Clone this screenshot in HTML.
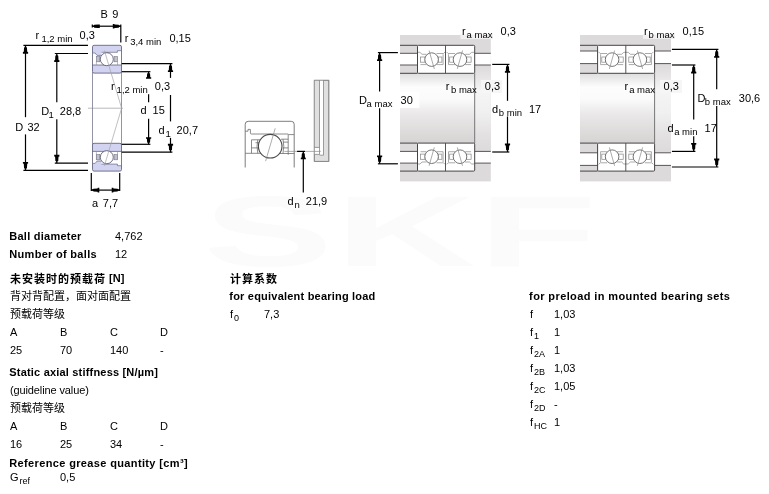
<!DOCTYPE html>
<html lang="zh-CN">
<head>
<meta charset="utf-8">
<title>Angular contact ball bearing - dimensions and calculation data</title>
<style>
html,body{margin:0;padding:0;background:#fff;}
#page{position:relative;width:769px;height:494px;overflow:hidden;background:#fff;
  font-family:"Liberation Sans", "Noto Sans CJK SC", sans-serif;font-size:11px;color:#000;}
#page svg{position:absolute;left:0;top:0;}
#page{will-change:transform;}
.dl{font-family:"Liberation Sans", "Noto Sans CJK SC", sans-serif;font-size:11px;fill:#000;}
.ds{font-family:"Liberation Sans", "Noto Sans CJK SC", sans-serif;font-size:9.5px;fill:#000;}
#wm{position:absolute;left:203px;top:175px;font-weight:bold;font-size:101px;line-height:112px;color:#fbfbfb;transform:scaleX(1.93);transform-origin:0 0;letter-spacing:1px;}
.t{position:absolute;white-space:nowrap;line-height:18px;height:18px;font-size:11px;}
.t.b{font-weight:bold;font-size:11px;}
.t .c{font-family:"Liberation Sans","Noto Sans CJK SC",sans-serif;font-size:11px;}
.t.b .c{font-size:11px;letter-spacing:1px;position:relative;top:1px;}
.t sub{font-size:9px;vertical-align:baseline;position:relative;top:3px;line-height:0;margin-left:1px;}
</style>
</head>
<body>
<div id="page">
<div id="wm">SKF</div>
<svg width="769" height="494" viewBox="0 0 769 494">
<defs>
<linearGradient id="shaft" x1="0" y1="0" x2="0" y2="1">
<stop offset="0" stop-color="#dfdede"/>
<stop offset="0.2" stop-color="#fdfdfd"/>
<stop offset="0.38" stop-color="#fafafa"/>
<stop offset="0.6" stop-color="#e9e7e7"/>
<stop offset="1" stop-color="#d6d3d3"/>
</linearGradient>
<linearGradient id="shoulder" x1="0" y1="0" x2="0" y2="1">
<stop offset="0" stop-color="#dcdadb"/>
<stop offset="0.14" stop-color="#e6e4e5"/>
<stop offset="0.3" stop-color="#f6f5f5"/>
<stop offset="0.55" stop-color="#f1f0f0"/>
<stop offset="0.8" stop-color="#e3e1e1"/>
<stop offset="1" stop-color="#dcdadb"/>
</linearGradient>
</defs>
<g id="d1">
<line x1="88.00" y1="108.20" x2="123.00" y2="108.20" stroke="#9a9aa2" stroke-width="0.7" />
<line x1="92.50" y1="72.00" x2="92.50" y2="145.00" stroke="#77788e" stroke-width="0.8" />
<line x1="121.50" y1="72.00" x2="121.50" y2="145.00" stroke="#77788e" stroke-width="0.8" />
<rect x="92.50" y="45.30" width="29.00" height="27.80" fill="#d2d3f1" stroke="#5e5f78" stroke-width="0.85" rx="1.6"/>
<polygon points="92.95,53.00 95.10,53.00 97.10,55.40 101.50,55.40 101.50,52.30 117.40,52.30 117.40,50.70 121.05,50.70 121.05,65.00 92.95,65.00" fill="#fff"/>
<polyline points="92.95,53.00 95.10,53.00 97.10,55.40 101.50,55.40" fill="none" stroke="#5e5f78" stroke-width="0.65"/>
<polyline points="101.50,52.30 117.40,52.30 117.40,50.70 121.05,50.70" fill="none" stroke="#5e5f78" stroke-width="0.65"/>
<line x1="92.50" y1="65.00" x2="121.50" y2="65.00" stroke="#5e5f78" stroke-width="0.75" />
<rect x="96.40" y="56.60" width="3.40" height="5.20" fill="#c2c2ca" stroke="#77788a" stroke-width="0.6" rx="0"/>
<rect x="114.10" y="56.60" width="3.40" height="5.20" fill="#c2c2ca" stroke="#77788a" stroke-width="0.6" rx="0"/>
<line x1="96.40" y1="61.80" x2="96.40" y2="65.00" stroke="#8a8b9c" stroke-width="0.6" />
<line x1="117.50" y1="61.80" x2="117.50" y2="65.00" stroke="#8a8b9c" stroke-width="0.6" />
<circle cx="106.8" cy="59.20" r="6.5" fill="#fff" stroke="#55566c" stroke-width="0.85"/>
<rect x="92.50" y="143.30" width="29.00" height="27.80" fill="#d2d3f1" stroke="#5e5f78" stroke-width="0.85" rx="1.6"/>
<polygon points="92.95,163.40 95.10,163.40 97.10,161.00 101.50,161.00 101.50,164.10 117.40,164.10 117.40,165.70 121.05,165.70 121.05,151.40 92.95,151.40" fill="#fff"/>
<polyline points="92.95,163.40 95.10,163.40 97.10,161.00 101.50,161.00" fill="none" stroke="#5e5f78" stroke-width="0.65"/>
<polyline points="101.50,164.10 117.40,164.10 117.40,165.70 121.05,165.70" fill="none" stroke="#5e5f78" stroke-width="0.65"/>
<line x1="92.50" y1="151.40" x2="121.50" y2="151.40" stroke="#5e5f78" stroke-width="0.75" />
<rect x="96.40" y="154.60" width="3.40" height="5.20" fill="#c2c2ca" stroke="#77788a" stroke-width="0.6" rx="0"/>
<rect x="114.10" y="154.60" width="3.40" height="5.20" fill="#c2c2ca" stroke="#77788a" stroke-width="0.6" rx="0"/>
<line x1="96.40" y1="159.80" x2="96.40" y2="151.40" stroke="#8a8b9c" stroke-width="0.6" />
<line x1="117.50" y1="159.80" x2="117.50" y2="151.40" stroke="#8a8b9c" stroke-width="0.6" />
<circle cx="106.8" cy="157.20" r="6.5" fill="#fff" stroke="#55566c" stroke-width="0.85"/>
<line x1="104.40" y1="50.50" x2="121.60" y2="108.20" stroke="#a4a4ac" stroke-width="0.7" />
<line x1="104.40" y1="165.90" x2="121.60" y2="108.20" stroke="#a4a4ac" stroke-width="0.7" />
<line x1="92.30" y1="26.20" x2="120.80" y2="26.20" stroke="#000" stroke-width="1.2" />
<line x1="120.80" y1="24.60" x2="120.80" y2="42.60" stroke="#000" stroke-width="1.2" />
<line x1="92.30" y1="24.60" x2="92.30" y2="27.60" stroke="#000" stroke-width="1.2" />
<polygon points="92.30,26.75 93.95,26.95 94.25,27.65 98.15,27.90 98.38,27.90 99.80,27.90 99.80,24.50 98.38,24.50 98.15,24.50 94.25,24.75 93.95,25.45 92.30,25.65" fill="#000"/>
<polygon points="120.80,26.75 119.04,26.95 118.72,27.65 114.56,27.90 114.32,28.50 112.80,28.50 112.80,23.90 114.32,23.90 114.56,24.50 118.72,24.75 119.04,25.45 120.80,25.65" fill="#000"/>
<line x1="23.40" y1="45.30" x2="88.00" y2="45.30" stroke="#000" stroke-width="1.2" />
<line x1="23.40" y1="170.40" x2="88.00" y2="170.40" stroke="#000" stroke-width="1.2" />
<line x1="25.50" y1="50.34" x2="25.50" y2="117.20" stroke="#000" stroke-width="1.2" />
<line x1="25.50" y1="134.40" x2="25.50" y2="165.36" stroke="#000" stroke-width="1.2" />
<polygon points="26.05,45.30 26.25,47.15 26.95,47.48 27.20,51.85 28.10,52.10 28.10,53.70 22.90,53.70 22.90,52.10 23.80,51.85 24.05,47.48 24.75,47.15 24.95,45.30" fill="#000"/>
<polygon points="26.05,170.40 26.25,168.55 26.95,168.22 27.20,163.85 28.10,163.60 28.10,162.00 22.90,162.00 22.90,163.60 23.80,163.85 24.05,168.22 24.75,168.55 24.95,170.40" fill="#000"/>
<line x1="54.80" y1="53.50" x2="88.00" y2="53.50" stroke="#000" stroke-width="1.2" />
<line x1="54.80" y1="163.20" x2="88.00" y2="163.20" stroke="#000" stroke-width="1.2" />
<line x1="56.80" y1="58.54" x2="56.80" y2="102.20" stroke="#000" stroke-width="1.2" />
<line x1="56.80" y1="119.30" x2="56.80" y2="158.16" stroke="#000" stroke-width="1.2" />
<polygon points="57.35,53.50 57.55,55.35 58.25,55.68 58.50,60.05 59.40,60.30 59.40,61.90 54.20,61.90 54.20,60.30 55.10,60.05 55.35,55.68 56.05,55.35 56.25,53.50" fill="#000"/>
<polygon points="57.35,163.20 57.55,161.35 58.25,161.02 58.50,156.65 59.40,156.40 59.40,154.80 54.20,154.80 54.20,156.40 55.10,156.65 55.35,161.02 56.05,161.35 56.25,163.20" fill="#000"/>
<line x1="121.70" y1="63.60" x2="172.40" y2="63.60" stroke="#000" stroke-width="1.2" />
<line x1="121.70" y1="152.20" x2="172.40" y2="152.20" stroke="#000" stroke-width="1.2" />
<line x1="170.50" y1="68.64" x2="170.50" y2="77.90" stroke="#000" stroke-width="1.2" />
<line x1="170.50" y1="95.00" x2="170.50" y2="121.40" stroke="#000" stroke-width="1.2" />
<line x1="170.50" y1="137.90" x2="170.50" y2="147.16" stroke="#000" stroke-width="1.2" />
<polygon points="171.05,63.60 171.25,65.45 171.95,65.78 172.20,70.15 173.10,70.40 173.10,72.00 167.90,72.00 167.90,70.40 168.80,70.15 169.05,65.78 169.75,65.45 169.95,63.60" fill="#000"/>
<polygon points="171.05,152.20 171.25,150.35 171.95,150.02 172.20,145.65 173.10,145.40 173.10,143.80 167.90,143.80 167.90,145.40 168.80,145.65 169.05,150.02 169.75,150.35 169.95,152.20" fill="#000"/>
<line x1="121.70" y1="71.70" x2="150.40" y2="71.70" stroke="#000" stroke-width="1.2" />
<line x1="121.70" y1="144.30" x2="150.40" y2="144.30" stroke="#000" stroke-width="1.2" />
<line x1="148.60" y1="75.90" x2="148.60" y2="77.90" stroke="#000" stroke-width="1.2" />
<line x1="148.60" y1="94.30" x2="148.60" y2="102.20" stroke="#000" stroke-width="1.2" />
<line x1="148.60" y1="118.70" x2="148.60" y2="140.10" stroke="#000" stroke-width="1.2" />
<polygon points="149.15,71.70 149.35,73.24 150.05,73.52 150.30,77.16 151.20,77.37 151.20,78.70 146.00,78.70 146.00,77.37 146.90,77.16 147.15,73.52 147.85,73.24 148.05,71.70" fill="#000"/>
<polygon points="149.15,144.30 149.35,142.76 150.05,142.48 150.30,138.84 151.20,138.63 151.20,137.30 146.00,137.30 146.00,138.63 146.90,138.84 147.15,142.48 147.85,142.76 148.05,144.30" fill="#000"/>
<line x1="91.30" y1="172.90" x2="91.30" y2="191.00" stroke="#000" stroke-width="1.2" />
<line x1="119.70" y1="172.90" x2="119.70" y2="191.00" stroke="#000" stroke-width="1.2" />
<line x1="91.30" y1="190.10" x2="119.70" y2="190.10" stroke="#000" stroke-width="1.2" />
<polygon points="91.30,190.65 93.06,190.85 93.38,191.55 97.54,191.80 97.78,192.40 99.30,192.40 99.30,187.80 97.78,187.80 97.54,188.40 93.38,188.65 93.06,189.35 91.30,189.55" fill="#000"/>
<polygon points="119.70,190.65 117.94,190.85 117.62,191.55 113.46,191.80 113.22,192.40 111.70,192.40 111.70,187.80 113.22,187.80 113.46,188.40 117.62,188.65 117.94,189.35 119.70,189.55" fill="#000"/>
</g>
<g id="d2">
<path d="M245.2 167.5 V124.3 Q245.2 121.3 248.2 121.3 H291.2 Q294.2 121.3 294.2 124.3 V167.5" fill="none" stroke="#6e6e6e" stroke-width="0.9"/>
<path d="M245.2 131.2 H248 V129.4 H250.4 V133 Q250.4 134 251.4 134 H288.2 M288.2 154.8 V134.6 H294.2" fill="none" stroke="#6e6e6e" stroke-width="0.8"/>
<path d="M245.2 153.3 H261 M280 153.5 H294.2" fill="none" stroke="#6e6e6e" stroke-width="0.8"/>
<path d="M260 139.8 H251.5 V153.3 M251.5 147.9 H258 M255.5 142.7 H259 M257.8 139.8 Q256.2 146.4 257.8 153.3" fill="none" stroke="#6e6e6e" stroke-width="0.8"/>
<path d="M281 139.2 H288.2 M283 142.1 H288.2 M283 147.9 H288.2 M283.0 139.2 Q284.6 146.4 283.0 153.3" fill="none" stroke="#6e6e6e" stroke-width="0.8"/>
<circle cx="270.2" cy="146.2" r="11.8" fill="#fff" stroke="#484848" stroke-width="1.1"/>
<line x1="275.20" y1="128.30" x2="265.60" y2="161.20" stroke="#8a8a8a" stroke-width="0.7" />
<rect x="314.30" y="80.30" width="14.50" height="81.10" fill="#e0e0e0" stroke="#8a8a8a" stroke-width="0.8" rx="0"/>
<path d="M319.5 80.3 V147.4 H314.3 V154.4 H319.5 V155.2 H323.5 V80.3 Z" fill="#fff"/>
<rect x="314.30" y="80.30" width="5.20" height="67.10" fill="#e0e0e0" stroke="none" stroke-width="0" rx="0"/>
<path d="M314.3 80.3 V161.4 H328.8 V80.3 Z M319.5 80.3 V154.6 M323.5 80.3 V155.2 H319.5 M314.3 147.4 H319.5 M314.3 154.4 H319.5" fill="none" stroke="#858585" stroke-width="0.8"/>
<line x1="284.40" y1="151.40" x2="320.80" y2="151.40" stroke="#8d8d8d" stroke-width="0.7" />
<line x1="297.10" y1="151.40" x2="305.00" y2="151.40" stroke="#000" stroke-width="1.2" />
<line x1="303.30" y1="157.00" x2="303.30" y2="192.60" stroke="#000" stroke-width="1.2" />
<polygon points="303.85,151.60 304.05,153.27 304.75,153.58 305.00,157.53 305.80,157.76 305.80,159.20 300.80,159.20 300.80,157.76 301.60,157.53 301.85,153.58 302.55,153.27 302.75,151.60" fill="#000"/>
</g>
<g id="d3">
<rect x="400.00" y="35.00" width="90.80" height="146.40" fill="#dcdadb" stroke="none" stroke-width="0" rx="0"/>
<rect x="400.00" y="73.30" width="74.70" height="69.80" fill="url(#shaft)" stroke="none" stroke-width="0" rx="0"/>
<rect x="474.70" y="65.00" width="16.10" height="86.40" fill="url(#shoulder)" stroke="none" stroke-width="0" rx="0"/>
<rect x="400.00" y="53.30" width="17.50" height="11.70" fill="#fff" stroke="none" stroke-width="0" rx="0"/>
<rect x="400.00" y="151.40" width="17.50" height="11.70" fill="#fff" stroke="none" stroke-width="0" rx="0"/>
<rect x="474.70" y="53.30" width="16.10" height="11.70" fill="#fff" stroke="none" stroke-width="0" rx="0"/>
<rect x="474.70" y="151.40" width="16.10" height="11.70" fill="#fff" stroke="none" stroke-width="0" rx="0"/>
<rect x="417.50" y="45.30" width="57.20" height="28.00" fill="#fff" stroke="none" stroke-width="0" rx="0"/>
<rect x="417.50" y="143.10" width="57.20" height="28.00" fill="#fff" stroke="none" stroke-width="0" rx="0"/>
<line x1="400.00" y1="45.30" x2="417.50" y2="45.30" stroke="#474345" stroke-width="1.0" />
<line x1="400.00" y1="171.10" x2="417.50" y2="171.10" stroke="#474345" stroke-width="1.0" />
<line x1="400.00" y1="53.30" x2="417.50" y2="53.30" stroke="#5a5658" stroke-width="1.0" />
<line x1="400.00" y1="163.10" x2="417.50" y2="163.10" stroke="#5a5658" stroke-width="1.0" />
<line x1="400.00" y1="65.00" x2="417.50" y2="65.00" stroke="#5a5658" stroke-width="1.0" />
<line x1="400.00" y1="151.40" x2="417.50" y2="151.40" stroke="#5a5658" stroke-width="1.0" />
<line x1="400.00" y1="73.30" x2="417.50" y2="73.30" stroke="#474345" stroke-width="1.0" />
<line x1="400.00" y1="143.10" x2="417.50" y2="143.10" stroke="#474345" stroke-width="1.0" />
<line x1="474.70" y1="53.30" x2="490.80" y2="53.30" stroke="#5a5658" stroke-width="1.0" />
<line x1="474.70" y1="163.10" x2="490.80" y2="163.10" stroke="#5a5658" stroke-width="1.0" />
<line x1="474.70" y1="65.00" x2="490.80" y2="65.00" stroke="#5a5658" stroke-width="1.0" />
<line x1="474.70" y1="151.40" x2="490.80" y2="151.40" stroke="#5a5658" stroke-width="1.0" />
<line x1="474.70" y1="73.30" x2="474.70" y2="143.10" stroke="#6a6a6a" stroke-width="0.9" />
<path d="M417.50 52.30 H419.90 L422.10 54.30 H426.50 M436.50 53.50 H443.50 L445.10 51.90" fill="none" stroke="#868686" stroke-width="0.7"/>
<path d="M420.50 64.60 H426.50 M436.50 64.60 H443.10 V54.30" fill="none" stroke="#868686" stroke-width="0.7"/>
<rect x="420.50" y="57.00" width="4.60" height="5.2" fill="#fff" stroke="#868686" stroke-width="0.7"/>
<rect x="438.10" y="57.00" width="3.80" height="5.2" fill="#fff" stroke="#868686" stroke-width="0.7"/>
<circle cx="431.60" cy="59.60" r="6.8" fill="#fff" stroke="#5e5e5e" stroke-width="0.85"/>
<line x1="429.10" y1="50.50" x2="434.30" y2="68.90" stroke="#868686" stroke-width="0.7"/>
<path d="M474.10 52.30 H471.70 L469.50 54.30 H465.10 M455.10 53.50 H448.10 L446.50 51.90" fill="none" stroke="#868686" stroke-width="0.7"/>
<path d="M471.10 64.60 H465.10 M455.10 64.60 H448.50 V54.30" fill="none" stroke="#868686" stroke-width="0.7"/>
<rect x="466.50" y="57.00" width="4.60" height="5.2" fill="#fff" stroke="#868686" stroke-width="0.7"/>
<rect x="449.70" y="57.00" width="3.80" height="5.2" fill="#fff" stroke="#868686" stroke-width="0.7"/>
<circle cx="460.00" cy="59.60" r="6.8" fill="#fff" stroke="#5e5e5e" stroke-width="0.85"/>
<line x1="462.50" y1="50.50" x2="457.30" y2="68.90" stroke="#868686" stroke-width="0.7"/>
<rect x="417.50" y="45.30" width="57.20" height="28.00" fill="none" stroke="#474345" stroke-width="1" rx="1"/>
<line x1="445.50" y1="45.30" x2="445.50" y2="73.30" stroke="#474345" stroke-width="0.9" />
<path d="M417.50 164.00 H419.90 L422.10 162.00 H426.50 M436.50 162.80 H443.50 L445.10 164.40" fill="none" stroke="#868686" stroke-width="0.7"/>
<path d="M420.50 151.70 H426.50 M436.50 151.70 H443.10 V162.00" fill="none" stroke="#868686" stroke-width="0.7"/>
<rect x="420.50" y="154.10" width="4.60" height="5.2" fill="#fff" stroke="#868686" stroke-width="0.7"/>
<rect x="438.10" y="154.10" width="3.80" height="5.2" fill="#fff" stroke="#868686" stroke-width="0.7"/>
<circle cx="431.60" cy="156.70" r="6.8" fill="#fff" stroke="#5e5e5e" stroke-width="0.85"/>
<line x1="429.10" y1="165.80" x2="434.30" y2="147.40" stroke="#868686" stroke-width="0.7"/>
<path d="M474.10 164.00 H471.70 L469.50 162.00 H465.10 M455.10 162.80 H448.10 L446.50 164.40" fill="none" stroke="#868686" stroke-width="0.7"/>
<path d="M471.10 151.70 H465.10 M455.10 151.70 H448.50 V162.00" fill="none" stroke="#868686" stroke-width="0.7"/>
<rect x="466.50" y="154.10" width="4.60" height="5.2" fill="#fff" stroke="#868686" stroke-width="0.7"/>
<rect x="449.70" y="154.10" width="3.80" height="5.2" fill="#fff" stroke="#868686" stroke-width="0.7"/>
<circle cx="460.00" cy="156.70" r="6.8" fill="#fff" stroke="#5e5e5e" stroke-width="0.85"/>
<line x1="462.50" y1="165.80" x2="457.30" y2="147.40" stroke="#868686" stroke-width="0.7"/>
<rect x="417.50" y="143.10" width="57.20" height="28.00" fill="none" stroke="#474345" stroke-width="1" rx="1"/>
<line x1="445.50" y1="143.10" x2="445.50" y2="171.10" stroke="#474345" stroke-width="0.9" />
<rect x="400.00" y="92.20" width="19.40" height="15.70" fill="#fff" stroke="none" stroke-width="0" rx="0"/>
<rect x="460.50" y="34.50" width="32.50" height="4.60" fill="#f1f0f0" stroke="none" stroke-width="0" rx="0"/>
<rect x="481.00" y="80.00" width="21.00" height="13.00" fill="#f7f6f6" stroke="none" stroke-width="0" rx="0"/>
<line x1="377.90" y1="52.60" x2="397.90" y2="52.60" stroke="#000" stroke-width="1.2" />
<line x1="377.90" y1="163.80" x2="397.90" y2="163.80" stroke="#000" stroke-width="1.2" />
<line x1="379.60" y1="57.64" x2="379.60" y2="91.50" stroke="#000" stroke-width="1.2" />
<line x1="379.60" y1="108.20" x2="379.60" y2="158.76" stroke="#000" stroke-width="1.2" />
<polygon points="380.15,52.60 380.35,54.45 381.05,54.78 381.30,59.15 382.20,59.40 382.20,61.00 377.00,61.00 377.00,59.40 377.90,59.15 378.15,54.78 378.85,54.45 379.05,52.60" fill="#000"/>
<polygon points="380.15,163.80 380.35,161.95 381.05,161.62 381.30,157.25 382.20,157.00 382.20,155.40 377.00,155.40 377.00,157.00 377.90,157.25 378.15,161.62 378.85,161.95 379.05,163.80" fill="#000"/>
<line x1="492.20" y1="64.40" x2="509.40" y2="64.40" stroke="#000" stroke-width="1.2" />
<line x1="492.20" y1="152.00" x2="509.40" y2="152.00" stroke="#000" stroke-width="1.2" />
<line x1="507.50" y1="69.44" x2="507.50" y2="100.80" stroke="#000" stroke-width="1.2" />
<line x1="507.50" y1="116.50" x2="507.50" y2="146.96" stroke="#000" stroke-width="1.2" />
<polygon points="508.05,64.40 508.25,66.25 508.95,66.58 509.20,70.95 510.10,71.20 510.10,72.80 504.90,72.80 504.90,71.20 505.80,70.95 506.05,66.58 506.75,66.25 506.95,64.40" fill="#000"/>
<polygon points="508.05,152.00 508.25,150.15 508.95,149.82 509.20,145.45 510.10,145.20 510.10,143.60 504.90,143.60 504.90,145.20 505.80,145.45 506.05,149.82 506.75,150.15 506.95,152.00" fill="#000"/>
</g>
<g id="d4">
<rect x="580.00" y="35.00" width="91.00" height="146.40" fill="#dcdadb" stroke="none" stroke-width="0" rx="0"/>
<rect x="580.00" y="73.30" width="74.60" height="69.80" fill="url(#shaft)" stroke="none" stroke-width="0" rx="0"/>
<rect x="654.60" y="63.60" width="16.40" height="89.20" fill="url(#shoulder)" stroke="none" stroke-width="0" rx="0"/>
<rect x="580.00" y="51.00" width="17.60" height="12.60" fill="#fff" stroke="none" stroke-width="0" rx="0"/>
<rect x="580.00" y="152.80" width="17.60" height="12.60" fill="#fff" stroke="none" stroke-width="0" rx="0"/>
<rect x="654.60" y="51.00" width="16.40" height="12.60" fill="#fff" stroke="none" stroke-width="0" rx="0"/>
<rect x="654.60" y="152.80" width="16.40" height="12.60" fill="#fff" stroke="none" stroke-width="0" rx="0"/>
<rect x="597.60" y="45.30" width="57.00" height="28.00" fill="#fff" stroke="none" stroke-width="0" rx="0"/>
<rect x="597.60" y="143.10" width="57.00" height="28.00" fill="#fff" stroke="none" stroke-width="0" rx="0"/>
<line x1="580.00" y1="45.30" x2="597.60" y2="45.30" stroke="#474345" stroke-width="1.0" />
<line x1="580.00" y1="171.10" x2="597.60" y2="171.10" stroke="#474345" stroke-width="1.0" />
<line x1="580.00" y1="51.00" x2="597.60" y2="51.00" stroke="#5a5658" stroke-width="1.0" />
<line x1="580.00" y1="165.40" x2="597.60" y2="165.40" stroke="#5a5658" stroke-width="1.0" />
<line x1="580.00" y1="63.60" x2="597.60" y2="63.60" stroke="#5a5658" stroke-width="1.0" />
<line x1="580.00" y1="152.80" x2="597.60" y2="152.80" stroke="#5a5658" stroke-width="1.0" />
<line x1="580.00" y1="73.30" x2="597.60" y2="73.30" stroke="#474345" stroke-width="1.0" />
<line x1="580.00" y1="143.10" x2="597.60" y2="143.10" stroke="#474345" stroke-width="1.0" />
<line x1="654.60" y1="51.00" x2="671.00" y2="51.00" stroke="#5a5658" stroke-width="1.0" />
<line x1="654.60" y1="165.40" x2="671.00" y2="165.40" stroke="#5a5658" stroke-width="1.0" />
<line x1="654.60" y1="63.60" x2="671.00" y2="63.60" stroke="#5a5658" stroke-width="1.0" />
<line x1="654.60" y1="152.80" x2="671.00" y2="152.80" stroke="#5a5658" stroke-width="1.0" />
<line x1="654.60" y1="73.30" x2="654.60" y2="143.10" stroke="#6a6a6a" stroke-width="0.9" />
<path d="M626.20 52.30 H623.80 L621.60 54.30 H617.20 M607.20 53.50 H600.20 L598.60 51.90" fill="none" stroke="#868686" stroke-width="0.7"/>
<path d="M623.20 64.60 H617.20 M607.20 64.60 H600.60 V54.30" fill="none" stroke="#868686" stroke-width="0.7"/>
<rect x="618.60" y="57.00" width="4.60" height="5.2" fill="#fff" stroke="#868686" stroke-width="0.7"/>
<rect x="601.80" y="57.00" width="3.80" height="5.2" fill="#fff" stroke="#868686" stroke-width="0.7"/>
<circle cx="612.10" cy="59.60" r="6.8" fill="#fff" stroke="#5e5e5e" stroke-width="0.85"/>
<line x1="614.60" y1="50.50" x2="609.40" y2="68.90" stroke="#868686" stroke-width="0.7"/>
<path d="M625.80 52.30 H628.20 L630.40 54.30 H634.80 M644.80 53.50 H651.80 L653.40 51.90" fill="none" stroke="#868686" stroke-width="0.7"/>
<path d="M628.80 64.60 H634.80 M644.80 64.60 H651.40 V54.30" fill="none" stroke="#868686" stroke-width="0.7"/>
<rect x="628.80" y="57.00" width="4.60" height="5.2" fill="#fff" stroke="#868686" stroke-width="0.7"/>
<rect x="646.40" y="57.00" width="3.80" height="5.2" fill="#fff" stroke="#868686" stroke-width="0.7"/>
<circle cx="639.90" cy="59.60" r="6.8" fill="#fff" stroke="#5e5e5e" stroke-width="0.85"/>
<line x1="637.40" y1="50.50" x2="642.60" y2="68.90" stroke="#868686" stroke-width="0.7"/>
<rect x="597.60" y="45.30" width="57.00" height="28.00" fill="none" stroke="#474345" stroke-width="1" rx="1"/>
<line x1="625.80" y1="45.30" x2="625.80" y2="73.30" stroke="#474345" stroke-width="0.9" />
<path d="M626.20 164.00 H623.80 L621.60 162.00 H617.20 M607.20 162.80 H600.20 L598.60 164.40" fill="none" stroke="#868686" stroke-width="0.7"/>
<path d="M623.20 151.70 H617.20 M607.20 151.70 H600.60 V162.00" fill="none" stroke="#868686" stroke-width="0.7"/>
<rect x="618.60" y="154.10" width="4.60" height="5.2" fill="#fff" stroke="#868686" stroke-width="0.7"/>
<rect x="601.80" y="154.10" width="3.80" height="5.2" fill="#fff" stroke="#868686" stroke-width="0.7"/>
<circle cx="612.10" cy="156.70" r="6.8" fill="#fff" stroke="#5e5e5e" stroke-width="0.85"/>
<line x1="614.60" y1="165.80" x2="609.40" y2="147.40" stroke="#868686" stroke-width="0.7"/>
<path d="M625.80 164.00 H628.20 L630.40 162.00 H634.80 M644.80 162.80 H651.80 L653.40 164.40" fill="none" stroke="#868686" stroke-width="0.7"/>
<path d="M628.80 151.70 H634.80 M644.80 151.70 H651.40 V162.00" fill="none" stroke="#868686" stroke-width="0.7"/>
<rect x="628.80" y="154.10" width="4.60" height="5.2" fill="#fff" stroke="#868686" stroke-width="0.7"/>
<rect x="646.40" y="154.10" width="3.80" height="5.2" fill="#fff" stroke="#868686" stroke-width="0.7"/>
<circle cx="639.90" cy="156.70" r="6.8" fill="#fff" stroke="#5e5e5e" stroke-width="0.85"/>
<line x1="637.40" y1="165.80" x2="642.60" y2="147.40" stroke="#868686" stroke-width="0.7"/>
<rect x="597.60" y="143.10" width="57.00" height="28.00" fill="none" stroke="#474345" stroke-width="1" rx="1"/>
<line x1="625.80" y1="143.10" x2="625.80" y2="171.10" stroke="#474345" stroke-width="0.9" />
<rect x="643.00" y="34.50" width="32.00" height="4.40" fill="#f1f0f0" stroke="none" stroke-width="0" rx="0"/>
<rect x="660.00" y="80.00" width="22.00" height="13.00" fill="#f7f6f6" stroke="none" stroke-width="0" rx="0"/>
<line x1="671.90" y1="49.40" x2="718.40" y2="49.40" stroke="#000" stroke-width="1.2" />
<line x1="671.90" y1="167.00" x2="718.40" y2="167.00" stroke="#000" stroke-width="1.2" />
<line x1="716.70" y1="54.44" x2="716.70" y2="89.30" stroke="#000" stroke-width="1.2" />
<line x1="716.70" y1="106.00" x2="716.70" y2="161.96" stroke="#000" stroke-width="1.2" />
<polygon points="717.25,49.40 717.45,51.25 718.15,51.58 718.40,55.95 719.30,56.20 719.30,57.80 714.10,57.80 714.10,56.20 715.00,55.95 715.25,51.58 715.95,51.25 716.15,49.40" fill="#000"/>
<polygon points="717.25,167.00 717.45,165.15 718.15,164.82 718.40,160.45 719.30,160.20 719.30,158.60 714.10,158.60 714.10,160.20 715.00,160.45 715.25,164.82 715.95,165.15 716.15,167.00" fill="#000"/>
<line x1="671.90" y1="65.00" x2="695.40" y2="65.00" stroke="#000" stroke-width="1.2" />
<line x1="671.90" y1="151.40" x2="695.40" y2="151.40" stroke="#000" stroke-width="1.2" />
<line x1="693.70" y1="70.04" x2="693.70" y2="119.50" stroke="#000" stroke-width="1.2" />
<line x1="693.70" y1="136.20" x2="693.70" y2="146.36" stroke="#000" stroke-width="1.2" />
<polygon points="694.25,65.00 694.45,66.85 695.15,67.18 695.40,71.55 696.30,71.80 696.30,73.40 691.10,73.40 691.10,71.80 692.00,71.55 692.25,67.18 692.95,66.85 693.15,65.00" fill="#000"/>
<polygon points="694.25,151.40 694.45,149.55 695.15,149.22 695.40,144.85 696.30,144.60 696.30,143.00 691.10,143.00 691.10,144.60 692.00,144.85 692.25,149.22 692.95,149.55 693.15,151.40" fill="#000"/>
</g>
<g id="labels">
<text x="100.4" y="18.0" class="dl">B</text>
<text x="112.3" y="18.0" class="dl">9</text>
<text x="35.6" y="39.1" class="dl">r</text>
<text x="41.4" y="42.1" class="ds">1,2 min</text>
<text x="79.6" y="39.1" class="dl">0,3</text>
<text x="124.8" y="42.1" class="dl">r</text>
<text x="130.2" y="45.1" class="ds">3,4 min</text>
<text x="169.4" y="42.1" class="dl">0,15</text>
<text x="111.0" y="90.3" class="dl">r</text>
<text x="116.6" y="93.3" class="ds">1,2 min</text>
<text x="154.8" y="90.3" class="dl">0,3</text>
<text x="140.6" y="114.2" class="dl">d</text>
<text x="152.6" y="114.2" class="dl">15</text>
<text x="158.6" y="133.8" class="dl">d</text>
<text x="165.6" y="136.8" class="ds">1</text>
<text x="176.6" y="133.8" class="dl">20,7</text>
<text x="15.2" y="131.0" class="dl">D</text>
<text x="27.4" y="131.0" class="dl">32</text>
<text x="41.2" y="115.1" class="dl">D</text>
<text x="48.4" y="118.1" class="ds">1</text>
<text x="59.8" y="115.1" class="dl">28,8</text>
<text x="92.0" y="207.0" class="dl">a</text>
<text x="102.8" y="207.0" class="dl">7,7</text>
<text x="287.6" y="205.1" class="dl">d</text>
<text x="294.4" y="208.1" class="ds">n</text>
<text x="305.8" y="205.1" class="dl">21,9</text>
<text x="462.0" y="34.8" class="dl">r</text>
<text x="466.6" y="37.8" class="ds">a max</text>
<text x="500.6" y="34.8" class="dl">0,3</text>
<text x="445.8" y="89.8" class="dl">r</text>
<text x="451.0" y="92.8" class="ds">b max</text>
<text x="484.8" y="89.8" class="dl">0,3</text>
<text x="359.0" y="103.7" class="dl">D</text>
<text x="366.6" y="106.7" class="ds">a max</text>
<text x="400.6" y="103.7" class="dl">30</text>
<text x="492.0" y="113.0" class="dl">d</text>
<text x="498.8" y="116.0" class="ds">b min</text>
<text x="529.0" y="113.0" class="dl">17</text>
<text x="644.0" y="34.5" class="dl">r</text>
<text x="648.6" y="37.5" class="ds">b max</text>
<text x="682.6" y="34.5" class="dl">0,15</text>
<text x="624.6" y="89.8" class="dl">r</text>
<text x="629.2" y="92.8" class="ds">a max</text>
<text x="663.6" y="89.8" class="dl">0,3</text>
<text x="697.4" y="102.3" class="dl">D</text>
<text x="704.8" y="105.3" class="ds">b max</text>
<text x="738.8" y="102.3" class="dl">30,6</text>
<text x="667.4" y="131.7" class="dl">d</text>
<text x="674.2" y="134.7" class="ds">a min</text>
<text x="704.6" y="131.7" class="dl">17</text>
</g>
</svg>
<div class="t b" style="left:9.3px;top:227px;letter-spacing:0.25px">Ball diameter</div>
<div class="t " style="left:115px;top:227px">4,762</div>
<div class="t b" style="left:9.3px;top:245px;letter-spacing:0.3px">Number of balls</div>
<div class="t " style="left:115px;top:245px">12</div>
<div class="t b" style="left:10px;top:269px"><span class="c">未安装时的预载荷</span> [N]</div>
<div class="t " style="left:10px;top:287px"><span class="c">背对背配置，面对面配置</span></div>
<div class="t " style="left:10px;top:305px"><span class="c">预载荷等级</span></div>
<div class="t " style="left:10px;top:323px">A</div>
<div class="t " style="left:60px;top:323px">B</div>
<div class="t " style="left:110px;top:323px">C</div>
<div class="t " style="left:160px;top:323px">D</div>
<div class="t " style="left:10px;top:341px">25</div>
<div class="t " style="left:60px;top:341px">70</div>
<div class="t " style="left:110px;top:341px">140</div>
<div class="t " style="left:160px;top:341px">-</div>
<div class="t b" style="left:9.3px;top:363px;letter-spacing:0.19px">Static axial stiffness [N/µm]</div>
<div class="t " style="left:10px;top:381px;letter-spacing:-0.12px">(guideline value)</div>
<div class="t " style="left:10px;top:399px"><span class="c">预载荷等级</span></div>
<div class="t " style="left:10px;top:417px">A</div>
<div class="t " style="left:60px;top:417px">B</div>
<div class="t " style="left:110px;top:417px">C</div>
<div class="t " style="left:160px;top:417px">D</div>
<div class="t " style="left:10px;top:435px">16</div>
<div class="t " style="left:60px;top:435px">25</div>
<div class="t " style="left:110px;top:435px">34</div>
<div class="t " style="left:160px;top:435px">-</div>
<div class="t b" style="left:9.3px;top:454px;letter-spacing:0.36px">Reference grease quantity [cm³]</div>
<div class="t " style="left:10px;top:468px">G<sub>ref</sub></div>
<div class="t " style="left:60px;top:468px">0,5</div>
<div class="t b" style="left:230px;top:269px"><span class="c">计算系数</span></div>
<div class="t b" style="left:229.3px;top:287px;letter-spacing:0.21px">for equivalent bearing load</div>
<div class="t " style="left:230px;top:305px">f<sub>0</sub></div>
<div class="t " style="left:264px;top:305px">7,3</div>
<div class="t b" style="left:529.1px;top:287px;letter-spacing:0.39px">for preload in mounted bearing sets</div>
<div class="t " style="left:530px;top:305px">f</div>
<div class="t " style="left:554px;top:305px">1,03</div>
<div class="t " style="left:530px;top:323px">f<sub>1</sub></div>
<div class="t " style="left:554px;top:323px">1</div>
<div class="t " style="left:530px;top:341px">f<sub>2A</sub></div>
<div class="t " style="left:554px;top:341px">1</div>
<div class="t " style="left:530px;top:359px">f<sub>2B</sub></div>
<div class="t " style="left:554px;top:359px">1,03</div>
<div class="t " style="left:530px;top:377px">f<sub>2C</sub></div>
<div class="t " style="left:554px;top:377px">1,05</div>
<div class="t " style="left:530px;top:395px">f<sub>2D</sub></div>
<div class="t " style="left:554px;top:395px">-</div>
<div class="t " style="left:530px;top:413px">f<sub>HC</sub></div>
<div class="t " style="left:554px;top:413px">1</div>
</div>
</body>
</html>
